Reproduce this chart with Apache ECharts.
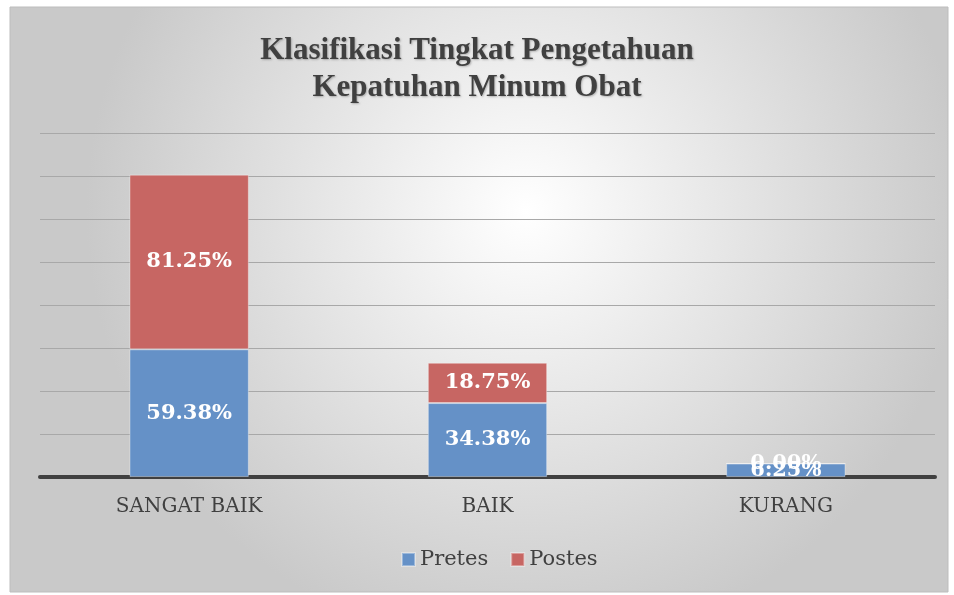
<!DOCTYPE html>
<html>
<head>
<meta charset="utf-8">
<script src="https://cdn.jsdelivr.net/npm/echarts@6/dist/echarts.min.js"></script>
<style>
  html, body { margin: 0; padding: 0; background: #fff; }
  #main { width: 954px; height: 595px; }
</style>
</head>
<body>
<div id="main"></div>
<script>
  // data
  var categories = ['SANGAT BAIK', 'BAIK', 'KURANG'];
  var pretesData = [59.38, 34.38, 6.25];
  var postesData = [81.25, 18.75, 0.00];

  var chart = echarts.init(document.getElementById('main'));

  var labelStyle = {
      show: true,
      position: 'inside',
      color: '#fff',
      fontFamily: 'DejaVu Serif',
      fontWeight: 'bold',
      fontSize: 21,
      formatter: function (p) { return p.value.toFixed(2) + '%'; }
  };

  var option = {
      backgroundColor: '#fff',
      graphic: [
          {
              type: 'rect',
              z: -10,
              shape: { x: 10, y: 7, width: 938, height: 585 },
              style: {
                  fill: new echarts.graphic.RadialGradient(0.55, 0.35, 0.75, [
                      { offset: 0, color: '#ffffff' },
                      { offset: 1, color: '#c9c9c9' }
                  ]),
                  stroke: '#bdbdbd',
                  lineWidth: 1
              }
          }
      ],
      title: {
          text: 'Klasifikasi Tingkat Pengetahuan\nKepatuhan Minum Obat',
          left: 'center',
          top: 27,
          textStyle: {
              color: '#404040',
              fontFamily: 'Liberation Serif',
              fontWeight: 'bold',
              fontSize: 31,
              lineHeight: 37,
              textShadowColor: 'rgba(0,0,0,0.25)',
              textShadowBlur: 2,
              textShadowOffsetX: 1,
              textShadowOffsetY: 1
          }
      },
      legend: {
          data: ['Pretes', 'Postes'],
          bottom: 20,
          left: 396,
          icon: 'rect',
          itemWidth: 13,
          itemHeight: 13,
          itemGap: 22,
          textStyle: {
              color: '#404040',
              fontFamily: 'DejaVu Serif',
              fontSize: 21
          }
      },
      grid: {
          left: 40,
          right: 19,
          top: 133,
          bottom: 118
      },
      xAxis: {
          type: 'category',
          data: categories,
          axisTick: { show: false },
          axisLine: { lineStyle: { color: '#404040', width: 4 } },
          axisLabel: {
              margin: 20,
              color: '#404040',
              fontFamily: 'DejaVu Serif',
              fontSize: 20
          }
      },
      yAxis: {
          type: 'value',
          min: 0,
          max: 160,
          interval: 20,
          axisLabel: { show: false },
          axisLine: { show: false },
          axisTick: { show: false },
          splitLine: { lineStyle: { color: '#a8a8a8', width: 1.2 } }
      },
      series: [
          {
              name: 'Pretes',
              type: 'bar',
              stack: 'total',
              barWidth: '40%',
              data: pretesData,
              itemStyle: { color: '#6591c7', borderColor: 'rgba(255,255,255,0.35)', borderWidth: 1 },
              label: labelStyle
          },
          {
              name: 'Postes',
              type: 'bar',
              stack: 'total',
              barWidth: '40%',
              data: postesData,
              itemStyle: { color: '#c76663', borderColor: 'rgba(255,255,255,0.35)', borderWidth: 1 },
              label: labelStyle
          }
      ]
  };

  chart.setOption(option);
</script>
</body>
</html>
